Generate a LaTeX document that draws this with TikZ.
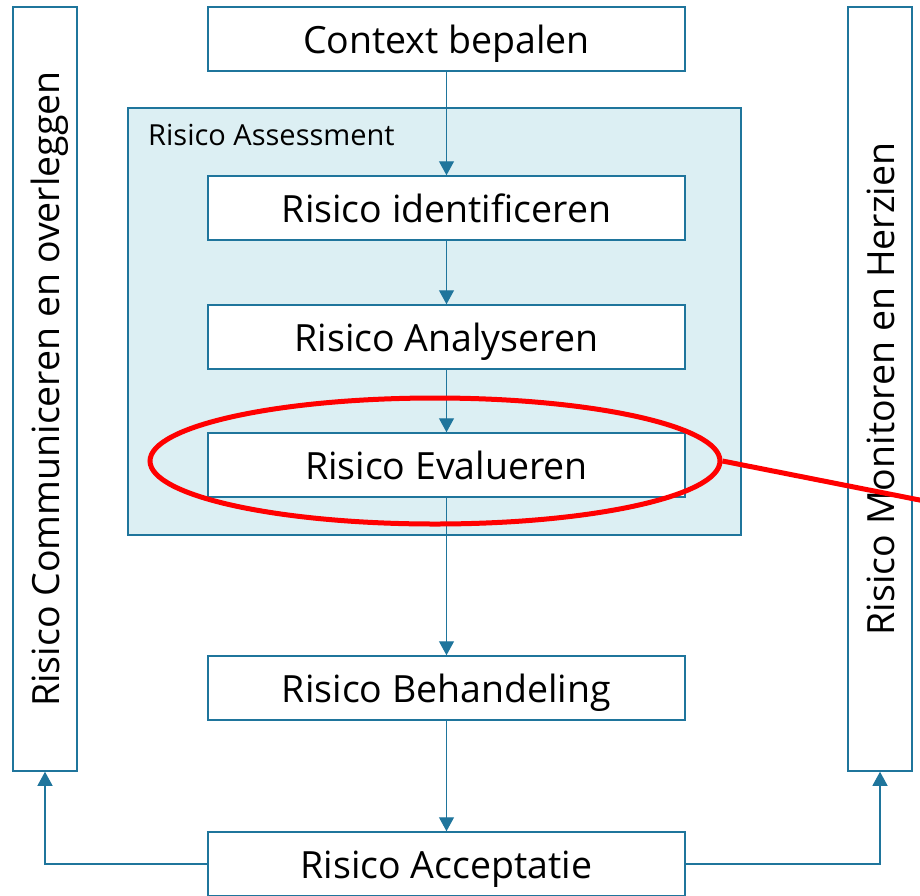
\documentclass[tikz,border=0pt]{standalone}
\usepackage{fontspec}
\setmainfont{Open Sans}
\usetikzlibrary{arrows.meta,shapes.geometric}
\definecolor{bluec}{RGB}{31,117,156}
\definecolor{lightb}{RGB}{220,239,243}
\tikzset{
  stepbox/.style={draw=bluec, line width=1.5pt, fill=white, minimum width=477pt, minimum height=64pt, inner sep=0pt, text height=28pt, text depth=0pt, font=\fontsize{37.5}{44}\selectfont},
  sidebox/.style={draw=bluec, line width=1.5pt, fill=white, minimum width=64pt, minimum height=764pt, inner sep=0pt},
  sidetext/.style={rotate=90, font=\fontsize{37.5}{44}\selectfont, inner sep=0pt, text height=28pt, text depth=0pt},
  conn/.style={draw=bluec, line width=1.2pt, -{Triangle[width=15pt,length=14pt]}},
  redmark/.style={draw=red, line width=5pt}
}
\begin{document}
\begin{tikzpicture}[x=1pt,y=-1pt]
\useasboundingbox (0,0) rectangle (920,895);
\clip (0,0) rectangle (920,895);
% side boxes
\node[sidebox] (left) at (45,389) {};
\node[sidetext] (lefttext) at (45,389) {Risico Communiceren en overleggen};
\node[sidebox] (right) at (880,389) {};
\node[sidetext] (righttext) at (880,389) {Risico Monitoren en Herzien};
% assessment container
\node[draw=bluec, line width=1.5pt, fill=lightb, minimum width=613pt, minimum height=427pt, inner sep=0pt] (assess) at (434.5,321.5) {};
\node[anchor=base west, inner sep=0pt, font=\fontsize{29}{34}\selectfont] (assesslabel) at (148,145) {Risico Assessment};
% steps
\node[stepbox] (context) at (446.5,39) {Context bepalen};
\node[stepbox] (ident) at (446.5,208) {Risico identificeren};
\node[stepbox] (analy) at (446.5,337) {Risico Analyseren};
\node[stepbox] (eval) at (446.5,465) {Risico Evalueren};
\node[stepbox] (behand) at (446.5,688) {Risico Behandeling};
\node[stepbox] (accept) at (446.5,864) {Risico Acceptatie};
% arrows
\draw[conn] (context) -- (ident);
\draw[conn] (ident) -- (analy);
\draw[conn] (analy) -- (eval);
\draw[conn] (eval) -- (behand);
\draw[conn] (behand) -- (accept);
\draw[conn] (accept.west) -| (left.south);
\draw[conn] (accept.east) -| (right.south);
% red highlight
\node[ellipse, redmark, minimum width=570pt, minimum height=126pt, inner sep=0pt] (ring) at (435,461) {};
\coordinate (redend) at (960,508);
\draw[redmark] (ring.east) -- (redend);
\end{tikzpicture}
\end{document}
